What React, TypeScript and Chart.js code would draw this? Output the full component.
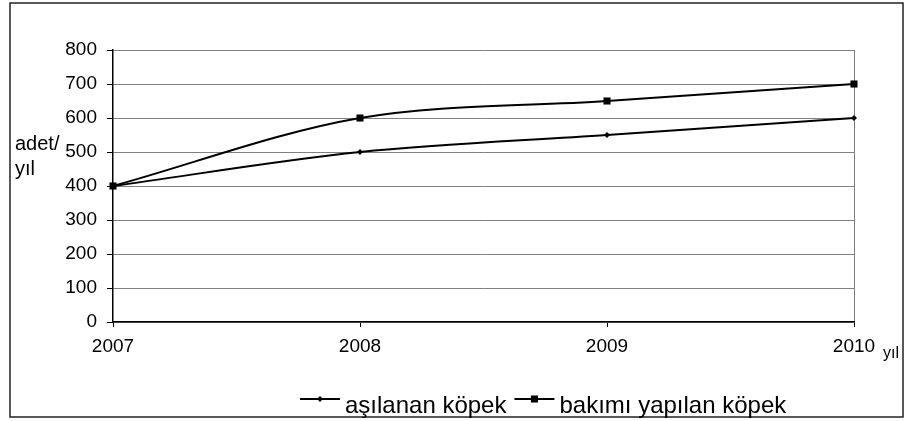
import React, { useEffect, useRef } from "react";
import { Chart, registerables } from "chart.js";

Chart.register(...registerables);

const years = ["2007", "2008", "2009", "2010"];
const asilanan = [400, 500, 550, 600];
const bakimi = [400, 600, 650, 700];
const seriesNames = ["aşılanan köpek", "bakımı yapılan köpek"];
const yTitleLines = ["adet/", "yıl"];
const xTitle = "yıl";

const FONT = '"Liberation Sans", Arial, sans-serif';

function drawMarker(ctx: CanvasRenderingContext2D, style: string, r: number, x: number, y: number) {
  ctx.beginPath();
  if (style === "rect") {
    const s = Math.SQRT1_2 * r;
    ctx.rect(x - s, y - s, 2 * s, 2 * s);
  } else {
    ctx.moveTo(x, y - r);
    ctx.lineTo(x + r, y);
    ctx.lineTo(x, y + r);
    ctx.lineTo(x - r, y);
    ctx.closePath();
  }
  ctx.fill();
}

const overlay = {
  id: "overlay",
  afterDraw(chart: any) {
    const ctx: CanvasRenderingContext2D = chart.ctx;
    ctx.save();
    ctx.strokeStyle = "#222";
    ctx.lineWidth = 1.5;
    ctx.strokeRect(10, 3, 893, 414);

    ctx.fillStyle = "#000";
    ctx.textAlign = "left";
    ctx.textBaseline = "alphabetic";
    ctx.font = `20px ${FONT}`;
    yTitleLines.forEach((t, i) => ctx.fillText(t, 15, 150 + i * 25));

    ctx.font = `16px ${FONT}`;
    ctx.fillText(xTitle, 883, 358);

    ctx.font = `24px ${FONT}`;
    let x = 300;
    const ly = 399;
    chart.data.datasets.forEach((ds: any) => {
      ctx.strokeStyle = "#000";
      ctx.lineWidth = 2;
      ctx.beginPath();
      ctx.moveTo(x, ly);
      ctx.lineTo(x + 40, ly);
      ctx.stroke();
      ctx.fillStyle = "#000";
      drawMarker(ctx, ds.pointStyle, ds.pointRadius, x + 20, ly);
      ctx.fillText(ds.label, x + 45, 413);
      x += 45 + ctx.measureText(ds.label).width + 8;
    });
    ctx.restore();
  },
};

export default function App() {
  const ref = useRef<HTMLCanvasElement>(null);
  useEffect(() => {
    document.body.style.margin = "0";
    const chart = new Chart(ref.current!, {
      type: "line",
      data: {
        labels: years,
        datasets: [
          {
            label: seriesNames[0],
            data: asilanan,
            borderColor: "#000",
            backgroundColor: "#000",
            borderWidth: 2,
            pointStyle: "rectRot",
            pointRadius: 3,
            pointBorderWidth: 0,
            tension: 0.33,
          },
          {
            label: seriesNames[1],
            data: bakimi,
            borderColor: "#000",
            backgroundColor: "#000",
            borderWidth: 2,
            pointStyle: "rect",
            pointRadius: 5,
            pointBorderWidth: 0,
            tension: 0.33,
          },
        ],
      },
      plugins: [overlay],
      options: {
        responsive: false,
        animation: false,
        devicePixelRatio: 1,
        layout: { padding: { left: 0, top: 50, right: 54, bottom: 0 } },
        plugins: { legend: { display: false }, tooltip: { enabled: false } },
        scales: {
          x: {
            offset: false,
            grid: {
              drawOnChartArea: true,
              color: (c: any) => (c.index === years.length - 1 ? "#808080" : "rgba(0,0,0,0)"),
              tickColor: "#000",
              tickLength: 5,
            },
            border: { color: "#000", width: 1.5 },
            ticks: { color: "#000", font: { family: FONT, size: 19 }, padding: 8, maxRotation: 0 },
            afterFit: (s: any) => {
              s.height = 99;
            },
          },
          y: {
            min: 0,
            max: 800,
            ticks: { stepSize: 100, color: "#000", font: { family: FONT, size: 19 }, padding: 10 },
            grid: { color: "#808080", tickColor: "#000", tickLength: 6 },
            border: { color: "#000", width: 1.5 },
            afterFit: (s: any) => {
              s.width = 113;
            },
          },
        },
      },
    });
    return () => chart.destroy();
  }, []);
  return <canvas ref={ref} width={908} height={421} style={{ display: "block", width: 908, height: 421 }} />;
}
